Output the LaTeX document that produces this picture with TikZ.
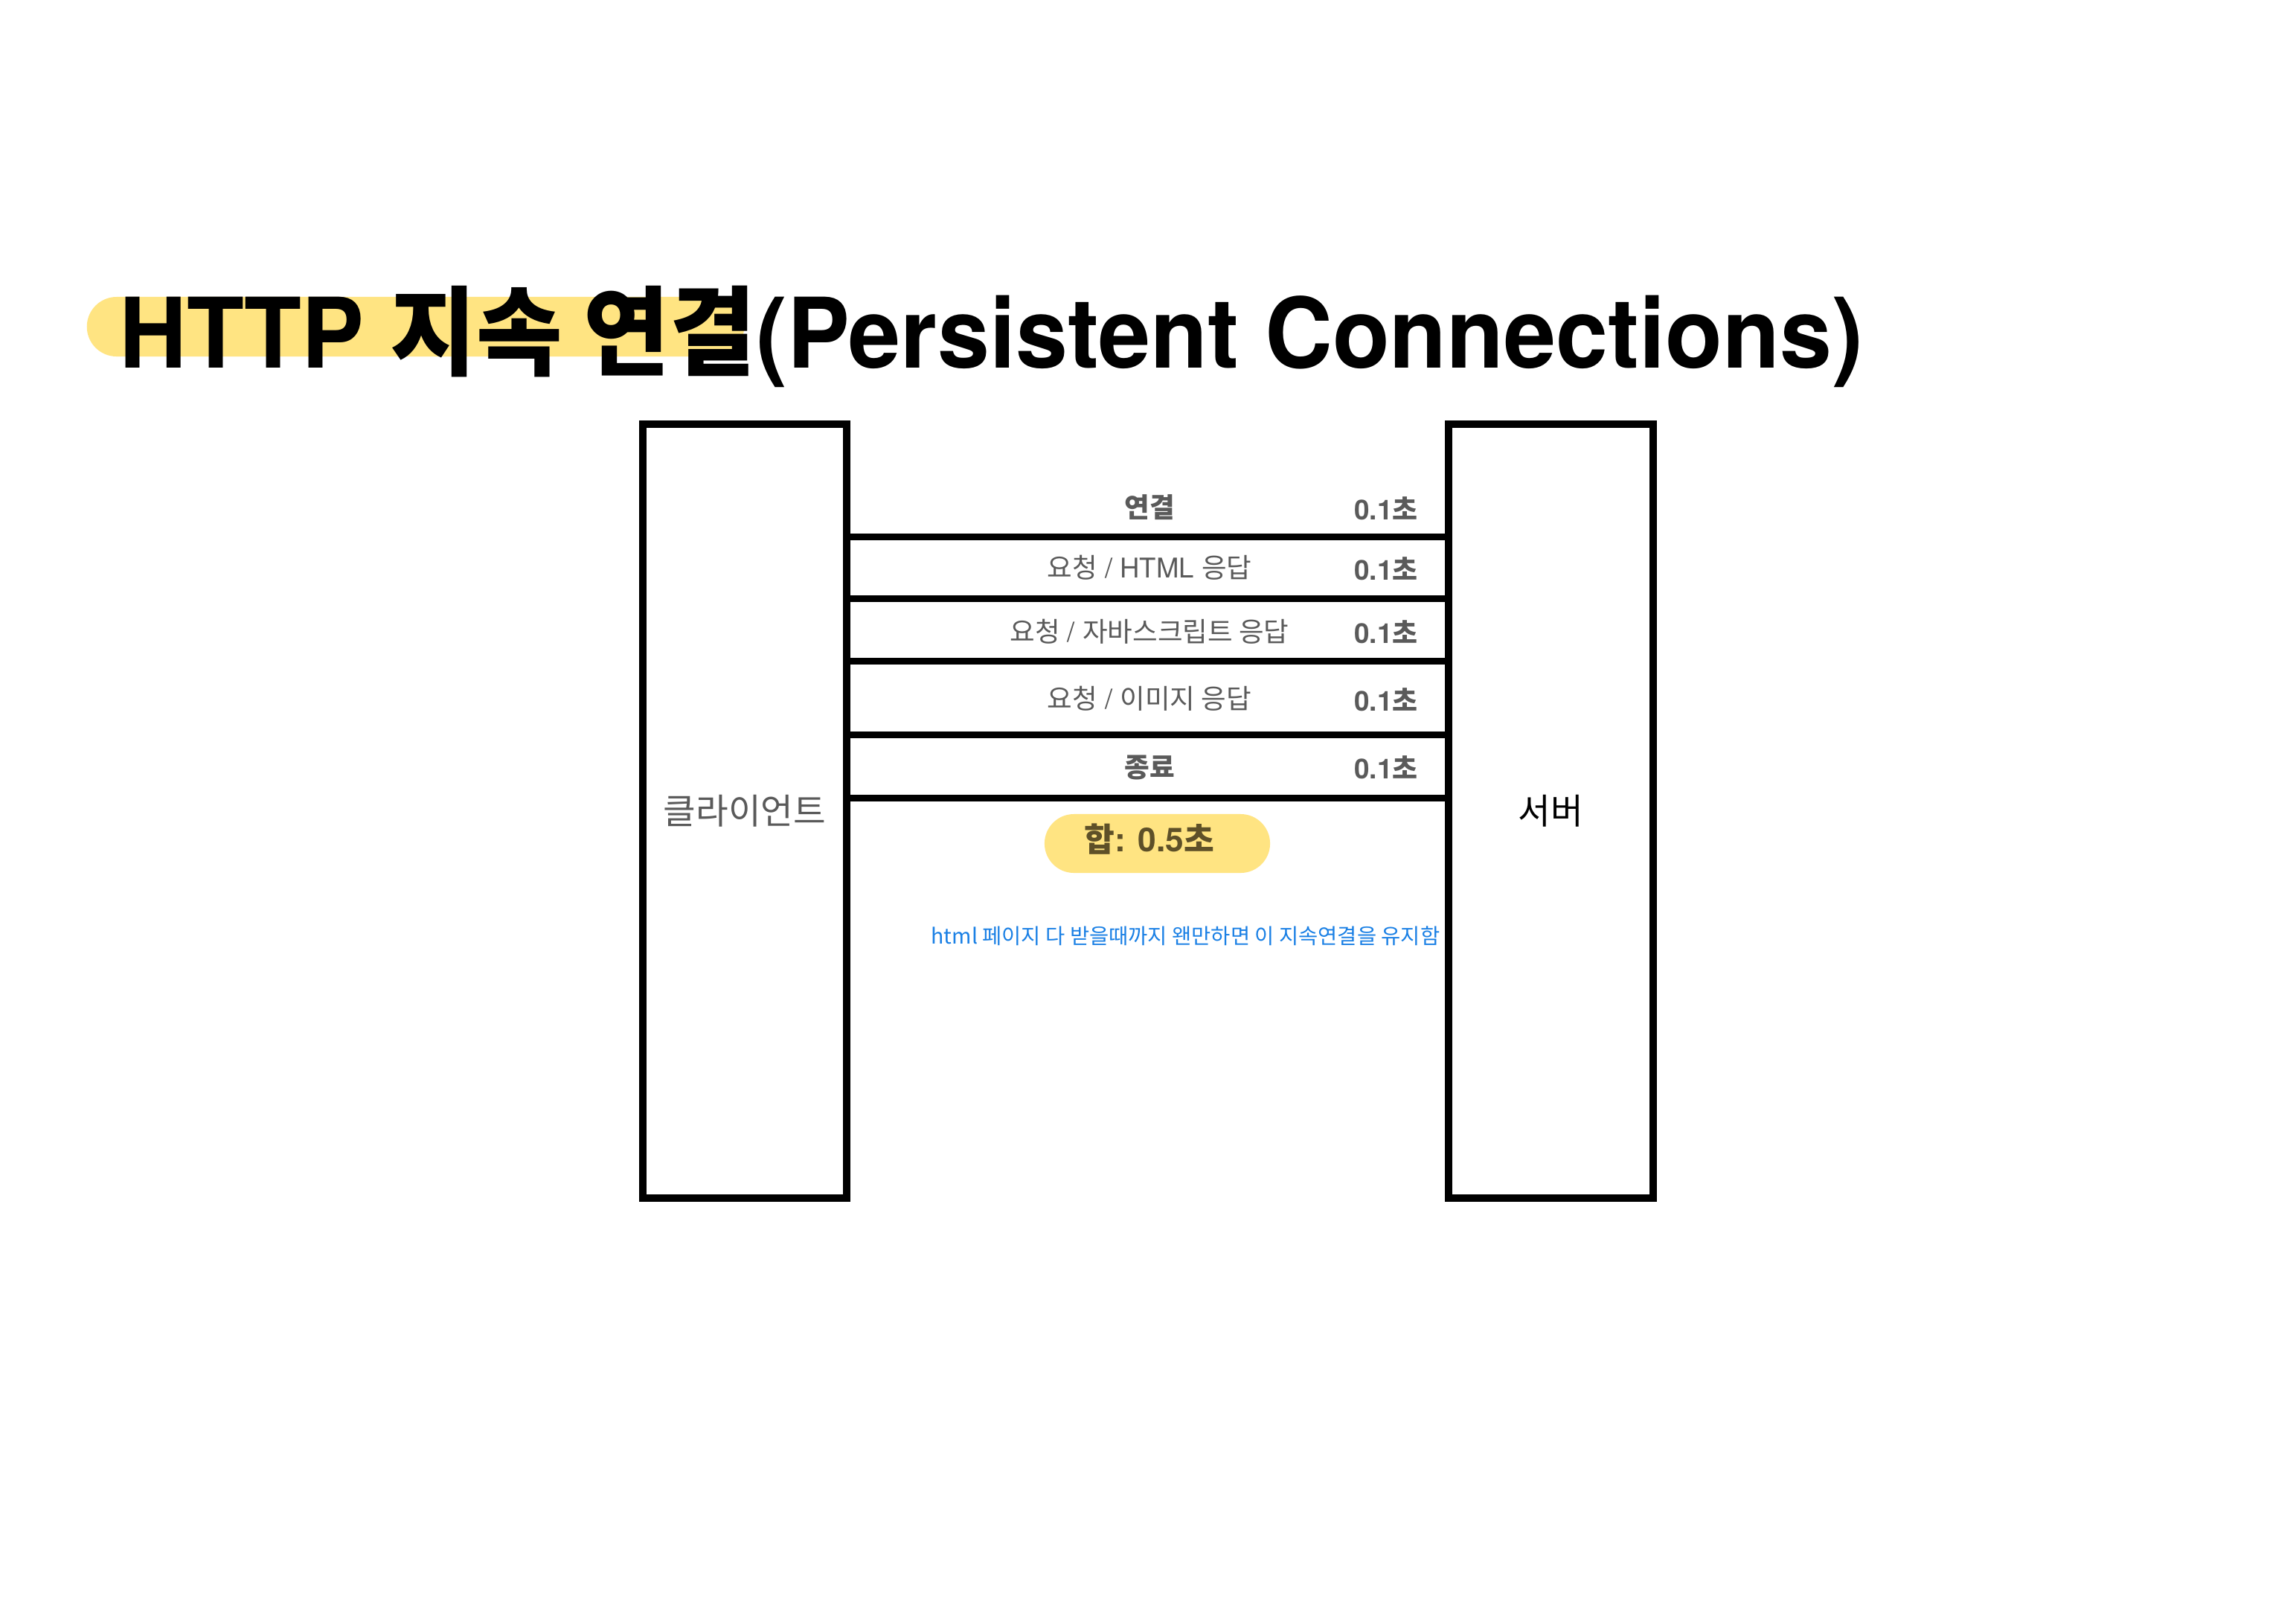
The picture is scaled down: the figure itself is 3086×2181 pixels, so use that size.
\documentclass[tikz,border=0pt]{standalone}
\usepackage{fontspec}
\setmainfont{TeX Gyre Heros}
\newfontfamily\kr{Noto Sans CJK KR}
\definecolor{hlyellow}{RGB}{255,228,130}
\definecolor{lblgray}{RGB}{90,90,90}
\definecolor{sumbrown}{RGB}{94,80,40}
\definecolor{noteblue}{RGB}{26,128,229}
\begin{document}
\begin{tikzpicture}[x=0.01cm,y=-0.01cm,
  box/.style={draw=black,line width=0.1cm,minimum width=2.74cm,minimum height=10.4cm,inner sep=0pt},
  sepline/.style={draw=black,line width=0.09cm},
  rowlbl/.style={text=lblgray,font=\fontsize{10.4}{12}\selectfont,inner sep=0pt},
  rowbold/.style={rowlbl,font=\fontsize{10.4}{12}\selectfont\bfseries},
  timelbl/.style={text=lblgray,font=\fontsize{10.5}{12}\selectfont\bfseries,inner sep=0pt},
  pill/.style={fill=hlyellow,draw=none,rounded corners=0.395cm,minimum width=3.03cm,minimum height=0.79cm,inner sep=0pt},
  titlehl/.style={fill=hlyellow,draw=none,rounded corners=0.4cm,minimum width=8.83cm,minimum height=0.8cm,inner sep=0pt}
]
\useasboundingbox (0,0) rectangle (3086,2181);
\fill[white] (0,0) rectangle (3086,2181);

% title
\node[titlehl] (hl) at (558.5,439) {};
\node[anchor=base west,inner sep=0pt,font=\fontsize{37.2}{40}\selectfont\bfseries] (title) at (160,494)
  {\scalebox{0.962}[1]{HTTP {\kr 지속 연결}(Persistent Connections)}};

% boxes
\node[box,text=lblgray,font=\fontsize{13.5}{16}\selectfont] (client) at (1001,1090) {\kr 클라이언트};
\node[box,text=black,font=\fontsize{13.5}{16}\selectfont] (server) at (2084.5,1090) {\kr 서버};

% separator lines
\coordinate (y1) at (0,721);
\coordinate (y2) at (0,804);
\coordinate (y3) at (0,888);
\coordinate (y4) at (0,987);
\coordinate (y5) at (0,1072);
\foreach \c in {y1,y2,y3,y4,y5}
  \draw[sepline] (client.east |- \c) -- (server.west |- \c);

% row labels
\node[rowbold] (r1) at (1545,682) {\kr 연결};
\node[rowlbl] (r2) at (1545,763) {{\kr 요청} / HTML {\kr 응답}};
\node[rowlbl] (r3) at (1545,849) {{\kr 요청} / {\kr 자바스크립트 응답}};
\node[rowlbl] (r4) at (1545,939) {{\kr 요청} / {\kr 이미지 응답}};
\node[rowbold] (r5) at (1545,1031) {\kr 종료};

\node[timelbl] (t1) at (1863,683) {0.1{\kr 초}};
\node[timelbl] (t2) at (1863,764) {0.1{\kr 초}};
\node[timelbl] (t3) at (1863,849) {0.1{\kr 초}};
\node[timelbl] (t4) at (1863,940) {0.1{\kr 초}};
\node[timelbl] (t5) at (1863,1031) {0.1{\kr 초}};

% sum pill
\node[pill] (sum) at (1555.5,1133.5) {};
\node[inner sep=0pt,text=sumbrown,font=\fontsize{12.6}{15}\selectfont\bfseries] (sumtxt) at (1545,1128) {{\kr 합}: 0.5{\kr 초}};

% note
\node[inner sep=0pt,text=noteblue,font=\kr\fontsize{8.1}{9}\selectfont] (note) at (1593.5,1258) {html 페이지 다 받을때까지 왠만하면 이 지속연결을 유지함};
\end{tikzpicture}
\end{document}
